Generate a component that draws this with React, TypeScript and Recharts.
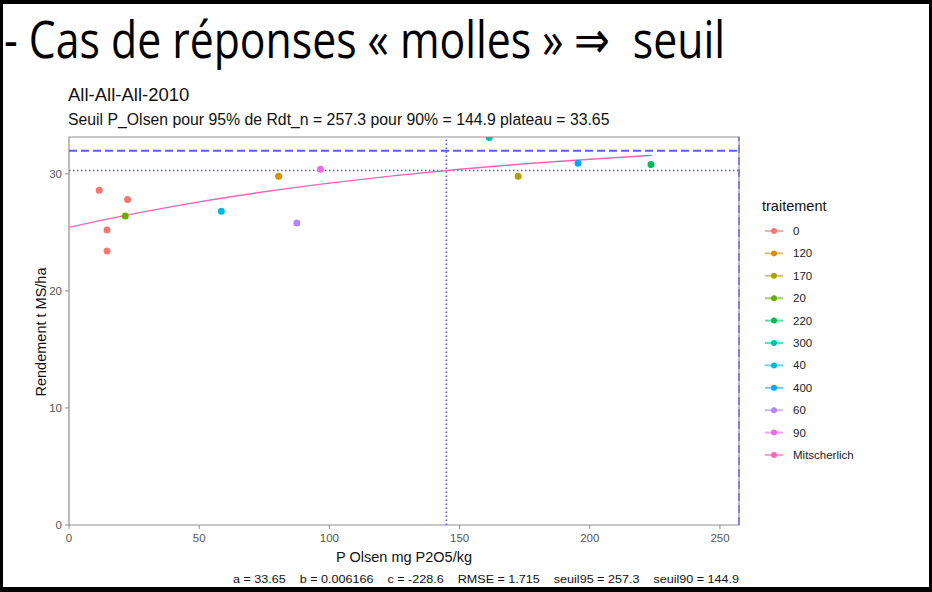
import React from 'react';
import {
    ComposedChart,
    Scatter,
    Line,
    XAxis,
    YAxis,
    ReferenceLine,
    ReferenceArea,
} from 'recharts';

// treatment levels, in legend order, and ggplot's hue palette
const treatments = ['0', '120', '170', '20', '220', '300', '40', '400', '60', '90'];
const treatmentColors = [
    '#F8766D', '#DB8E00', '#AEA200', '#64B200', '#00BD5C',
    '#00C1A7', '#00BADE', '#00A6FF', '#B385FF', '#EF67EB',
];
const fitColor = '#FF63B6';

const pointTreatment = ['0', '0', '0', '0', '20', '40', '120', '60', '90', '300', '170', '400', '220'];
const pointPOlsen = [11.6, 14.6, 14.6, 22.5, 21.6, 58.5, 80.5, 87.5, 96.6, 161.4, 172.5, 195.5, 223.5];
const pointRdt = [28.6, 25.2, 23.4, 27.8, 26.4, 26.8, 29.8, 25.8, 30.4, 33.1, 29.8, 30.9, 30.8];

// Mitscherlich curve, read along its length
const curvePOlsen = [0, 25, 50, 75, 100, 125, 150, 175, 200, 224];
const curveRdt = [25.43, 26.6, 27.61, 28.47, 29.21, 29.85, 30.39, 30.86, 31.25, 31.58];

// thresholds
const seuil95 = 257.3;
const seuil90 = 144.9;
const rdt95 = 31.97;
const rdt90 = 30.29;

const xTicks = [0, 50, 100, 150, 200, 250];
const yTicks = [0, 10, 20, 30];
const yMax = 33.15;

const captionParts = ['a = 33.65', 'b = 0.006166', 'c = -228.6', 'RMSE = 1.715', 'seuil95 = 257.3', 'seuil90 = 144.9'];

const FONT = '"Liberation Sans", Arial, sans-serif';
const REF_BLUE = '#5c5cf2';

const curveData = curvePOlsen.map((x, i) => ({ x, y: curveRdt[i] }));
const seriesData = treatments.map((t) =>
    pointTreatment
        .map((tr, i) => ({ tr, x: pointPOlsen[i], y: pointRdt[i] }))
        .filter((d) => d.tr === t)
);

export default function App() {
    const tickStyle = { fill: '#555', fontSize: 11.5, fontFamily: FONT };
    return (
        <div style={{ position: 'absolute', left: 0, top: 0, width: 932, height: 592, background: '#fff' }}>
            <div style={{ position: 'absolute', left: 0, top: 0 }}>
                <ComposedChart
                    width={932}
                    height={592}
                    margin={{ top: 137, right: 193, bottom: 0, left: 0 }}
                >
                    <XAxis
                        type="number"
                        dataKey="x"
                        domain={[0, seuil95]}
                        ticks={xTicks}
                        allowDataOverflow
                        height={67}
                        axisLine={false}
                        tickSize={4}
                        tickMargin={5}
                        tickLine={{ stroke: '#8f8f8f' }}
                        tick={tickStyle}
                    />
                    <YAxis
                        type="number"
                        dataKey="y"
                        domain={[0, yMax]}
                        ticks={yTicks}
                        allowDataOverflow
                        width={69}
                        axisLine={false}
                        tickSize={4}
                        tickMargin={3}
                        tickLine={{ stroke: '#8f8f8f' }}
                        tick={tickStyle}
                    />
                    <ReferenceArea
                        x1={0}
                        x2={seuil95}
                        y1={0}
                        y2={yMax}
                        fill="none"
                        fillOpacity={0}
                        stroke="#8f8f8f"
                        strokeWidth={1.2}
                    />
                    <ReferenceLine y={rdt95} stroke={REF_BLUE} strokeWidth={2} strokeDasharray="8 4" />
                    <ReferenceLine y={rdt90} stroke={REF_BLUE} strokeWidth={1.6} strokeDasharray="1.5 2.5" />
                    <ReferenceLine x={seuil90} stroke={REF_BLUE} strokeWidth={1.6} strokeDasharray="1.5 2.5" />
                    <ReferenceLine x={seuil95} stroke={REF_BLUE} strokeWidth={1.2} strokeDasharray="8 4" />
                    <Line
                        data={curveData}
                        dataKey="y"
                        type="monotone"
                        stroke={fitColor}
                        strokeWidth={1.4}
                        dot={false}
                        activeDot={false}
                        isAnimationActive={false}
                    />
                    {treatments.map((t, i) => (
                        <Scatter
                            key={t}
                            name={t}
                            data={seriesData[i]}
                            dataKey="y"
                            isAnimationActive={false}
                            shape={(p: any) => (
                                <circle cx={p.cx} cy={p.cy} r={3.5} fill={treatmentColors[i]} />
                            )}
                        />
                    ))}
                </ComposedChart>
            </div>
            <svg
                width={932}
                height={592}
                style={{ position: 'absolute', left: 0, top: 0, pointerEvents: 'none' }}
            >
                <text
                    x={4}
                    y={58}
                    fontSize={52}
                    fontFamily='"Open Sans", "Noto Sans", sans-serif'
                    textLength={721}
                    lengthAdjust="spacingAndGlyphs"
                    fill="#000"
                    style={{ whiteSpace: 'pre' }}
                >
                    {'- Cas de réponses « molles » ⇒  seuil'}
                </text>
                <text x={68} y={100.5} fontSize={18.5} fontFamily={FONT} fill="#111">
                    All-All-All-2010
                </text>
                <text x={68} y={125} fontSize={15.8} fontFamily={FONT} fill="#111">
                    Seuil P_Olsen pour 95% de Rdt_n = 257.3 pour 90% = 144.9 plateau = 33.65
                </text>
                <text x={404} y={562} fontSize={14.5} fontFamily={FONT} fill="#111" textAnchor="middle">
                    P Olsen mg P2O5/kg
                </text>
                <text
                    transform="translate(46 332) rotate(-90)"
                    fontSize={14.5}
                    fontFamily={FONT}
                    fill="#111"
                    textAnchor="middle"
                >
                    Rendement t MS/ha
                </text>
                <text
                    x={233}
                    y={583}
                    fontSize={11}
                    fontFamily={FONT}
                    fill="#111"
                    textLength={506}
                    lengthAdjust="spacingAndGlyphs"
                    style={{ whiteSpace: 'pre' }}
                >
                    {captionParts.join('    ')}
                </text>
                <text x={762} y={211} fontSize={14.5} fontFamily={FONT} fill="#111">
                    traitement
                </text>
                {[...treatments, 'Mitscherlich'].map((t, i) => {
                    const y = 231 + i * 22.4;
                    const c = i < treatments.length ? treatmentColors[i] : fitColor;
                    return (
                        <g key={t}>
                            <line x1={765} x2={783} y1={y} y2={y} stroke={c} strokeWidth={2} strokeOpacity={0.6} />
                            <circle cx={774} cy={y} r={3} fill={c} />
                            <text x={793} y={y + 4} fontSize={11.5} fontFamily={FONT} fill="#222">
                                {t}
                            </text>
                        </g>
                    );
                })}
                <rect x={0} y={0} width={932} height={4} fill="#000" />
                <rect x={0} y={0} width={3} height={592} fill="#000" />
                <rect x={929} y={0} width={3} height={592} fill="#000" />
                <rect x={0} y={587} width={932} height={5} fill="#000" />
            </svg>
        </div>
    );
}
